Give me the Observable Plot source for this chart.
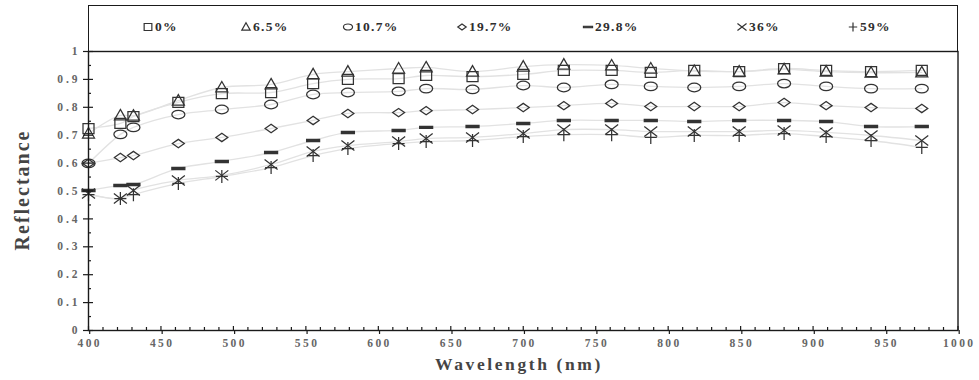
<!DOCTYPE html>
<html>
<head>
<meta charset="utf-8">
<script src="https://cdn.jsdelivr.net/npm/d3@7"></script>
<script src="https://cdn.jsdelivr.net/npm/@observablehq/plot@0.6"></script>
<style>
  body { margin: 0; background: #fff; }
  #wrap { position: relative; width: 979px; height: 380px; overflow: hidden; }
  #legend { position: absolute; left: 88px; top: 5px; width: 870px; height: 46px; box-sizing: border-box;
            border: 1.4px solid #1a1a1a; border-bottom: none; }
  .item { position: absolute; top: 12px; height: 18px; display: flex; align-items: center;
          font: bold 13.5px "Liberation Serif", serif; color: #2e2e2e; letter-spacing: 1.3px; white-space: nowrap; }
  .item svg { margin-right: 2px; overflow: visible; }
  .title { position: absolute; font: bold 17.5px "Liberation Serif", serif; color: #444; white-space: nowrap; }
  #xtitle { left: 519px; top: 354px; transform: translateX(-50%); letter-spacing: 2.6px; }
  #ytitle { left: 22px; top: 190px; transform: translate(-50%, -50%) rotate(-90deg); font-size: 20px; letter-spacing: 2px; }
  #chart .xax text { letter-spacing: 2.4px; }
  #chart .yax text { letter-spacing: 3px; }
</style>
</head>
<body>
<div id="wrap">
  <div id="chart"></div>
  <div id="legend"></div>
  <div class="title" id="xtitle">Wavelength (nm)</div>
  <div class="title" id="ytitle">Reflectance</div>
</div>
<script>
// Sampled wavelengths (nm) and reflectance for each fraction
const wavelengths = [400, 422, 431, 462, 492, 526, 555, 579, 614, 633, 665, 700, 728, 761, 788, 818, 849, 880, 909, 940, 975];
const seriesNames = ["0%", "6.5%", "10.7%", "19.7%", "29.8%", "36%", "59%"];
const refl0   = [0.724, 0.742, 0.767, 0.818, 0.849, 0.853, 0.885, 0.900, 0.903, 0.914, 0.910, 0.918, 0.932, 0.932, 0.925, 0.932, 0.928, 0.939, 0.932, 0.928, 0.932];
const refl65  = [0.706, 0.771, 0.770, 0.824, 0.871, 0.882, 0.918, 0.928, 0.939, 0.943, 0.928, 0.946, 0.953, 0.950, 0.939, 0.930, 0.928, 0.936, 0.928, 0.924, 0.925];
const refl107 = [0.599, 0.703, 0.728, 0.774, 0.792, 0.810, 0.846, 0.853, 0.857, 0.867, 0.864, 0.878, 0.871, 0.882, 0.875, 0.871, 0.875, 0.885, 0.875, 0.867, 0.867];
const refl197 = [0.599, 0.620, 0.627, 0.670, 0.692, 0.724, 0.753, 0.778, 0.781, 0.788, 0.792, 0.799, 0.806, 0.814, 0.803, 0.803, 0.803, 0.817, 0.806, 0.799, 0.796];
const refl298 = [0.502, 0.520, 0.523, 0.581, 0.606, 0.638, 0.681, 0.710, 0.717, 0.728, 0.731, 0.742, 0.753, 0.753, 0.753, 0.749, 0.753, 0.753, 0.749, 0.731, 0.731];
const refl36  = [0.491, 0.473, 0.502, 0.538, 0.556, 0.595, 0.642, 0.663, 0.677, 0.688, 0.692, 0.706, 0.720, 0.720, 0.713, 0.713, 0.713, 0.717, 0.710, 0.699, 0.681];
const refl59  = [0.487, 0.473, 0.487, 0.527, 0.552, 0.584, 0.627, 0.652, 0.670, 0.677, 0.681, 0.695, 0.702, 0.702, 0.692, 0.699, 0.699, 0.706, 0.695, 0.681, 0.656];
const xTicks = [400, 450, 500, 550, 600, 650, 700, 750, 800, 850, 900, 950, 1000];
const yTicks = [0, 0.1, 0.2, 0.3, 0.4, 0.5, 0.6, 0.7, 0.8, 0.9, 1];

const seriesValues = [refl0, refl65, refl107, refl197, refl298, refl36, refl59];
const data = seriesNames.flatMap((s, i) => wavelengths.map((w, j) => ({series: s, w, r: seriesValues[i][j]})));

// Marker shapes (k scales them; legend uses smaller ones)
function makeSymbols(k) {
  return [
    {draw(c) { c.rect(-5.5 * k, -5 * k, 11 * k, 10 * k); }},
    {draw(c) { c.moveTo(0, -6 * k); c.lineTo(6 * k, 4.5 * k); c.lineTo(-6 * k, 4.5 * k); c.closePath(); }},
    {draw(c) {
      const rx = 6.5 * k, ry = 4.3 * k, m = 0.5523;
      c.moveTo(rx, 0);
      c.bezierCurveTo(rx, ry * m, rx * m, ry, 0, ry);
      c.bezierCurveTo(-rx * m, ry, -rx, ry * m, -rx, 0);
      c.bezierCurveTo(-rx, -ry * m, -rx * m, -ry, 0, -ry);
      c.bezierCurveTo(rx * m, -ry, rx, -ry * m, rx, 0);
      c.closePath();
    }},
    {draw(c) { c.moveTo(0, -4.2 * k); c.lineTo(6 * k, 0); c.lineTo(0, 4.2 * k); c.lineTo(-6 * k, 0); c.closePath(); }},
    {draw(c) { c.rect(-6.5 * k, -1.1 * k, 13 * k, 2.2 * k); }},
    {draw(c) { c.moveTo(-6.5 * k, -5 * k); c.lineTo(6.5 * k, 5 * k); c.moveTo(6.5 * k, -5 * k); c.lineTo(-6.5 * k, 5 * k); }},
    {draw(c) { c.moveTo(-6 * k, 0); c.lineTo(6 * k, 0); c.moveTo(0, -6.5 * k); c.lineTo(0, 6.5 * k); }}
  ];
}
const symbols = makeSymbols(1);
const legendSymbols = makeSymbols(0.7);
const solidIndex = 4; // the dash marker is filled

const xMinor = d3.range(400, 1001, 10).filter(d => d % 50 !== 0);
const yMinor = d3.range(0.05, 1, 0.1);

const chart = Plot.plot({
  width: 979,
  height: 380,
  marginLeft: 88,
  marginRight: 21.5,
  marginTop: 51,
  marginBottom: 50,
  x: {domain: [400, 1000]},
  y: {domain: [0, 1]},
  style: {fontFamily: '"Liberation Serif", serif', fontWeight: "bold", fontSize: "11.5px", color: "#666", background: "transparent"},
  marks: [
    // faint spectral curves behind the markers
    Plot.line(data, {x: "w", y: "r", z: "series", stroke: "#e2e2e2", strokeWidth: 1.3, curve: "catmull-rom"}),
    ...seriesNames.map((s, i) =>
      Plot.dot(data.filter(d => d.series === s), {
        x: "w", y: "r", symbol: symbols[i], stroke: "#333", strokeWidth: 1.25,
        fill: i === solidIndex ? "#333" : "none"
      })
    ),
    Plot.frame({stroke: "#1a1a1a", strokeWidth: 1.4}),
    // inward tick marks
    Plot.tickX(xTicks, {x: d => d, insetTop: 275, stroke: "#1a1a1a", strokeWidth: 1.2}),
    Plot.tickX(xMinor, {x: d => d, insetTop: 276, stroke: "#1a1a1a", strokeWidth: 1.2}),
    Plot.tickY(yTicks, {y: d => d, insetRight: 864.5, stroke: "#1a1a1a", strokeWidth: 1.2}),
    Plot.tickY(yMinor, {y: d => d, insetRight: 866.5, stroke: "#1a1a1a", strokeWidth: 1.2}),
    Plot.axisX({ticks: xTicks, tickSize: 4, tickPadding: 4, tickFormat: d => String(d), label: null,
      stroke: "#1a1a1a", strokeWidth: 1.2, className: "xax", dx: 1.2}),
    Plot.axisY({ticks: yTicks, tickSize: 5, tickPadding: 3, tickFormat: d => String(+d.toFixed(1)), label: null,
      stroke: "#1a1a1a", strokeWidth: 1.2, className: "yax"})
  ]
});
document.getElementById("chart").appendChild(chart);

// Legend row inside the box above the plot
const legendLeft = [54, 152, 254, 368, 494, 648, 759];
const legend = d3.select("#legend");
seriesNames.forEach((s, i) => {
  const item = legend.append("div").attr("class", "item").style("left", legendLeft[i] + "px");
  const svg = item.append("svg").attr("width", 10).attr("height", 10);
  svg.append("path")
    .attr("transform", "translate(5,5)")
    .attr("d", d3.symbol(legendSymbols[i])())
    .attr("fill", i === solidIndex ? "#333" : "none").attr("stroke", "#333").attr("stroke-width", 1.2);
  item.append("span").text(s);
});
</script>
</body>
</html>
